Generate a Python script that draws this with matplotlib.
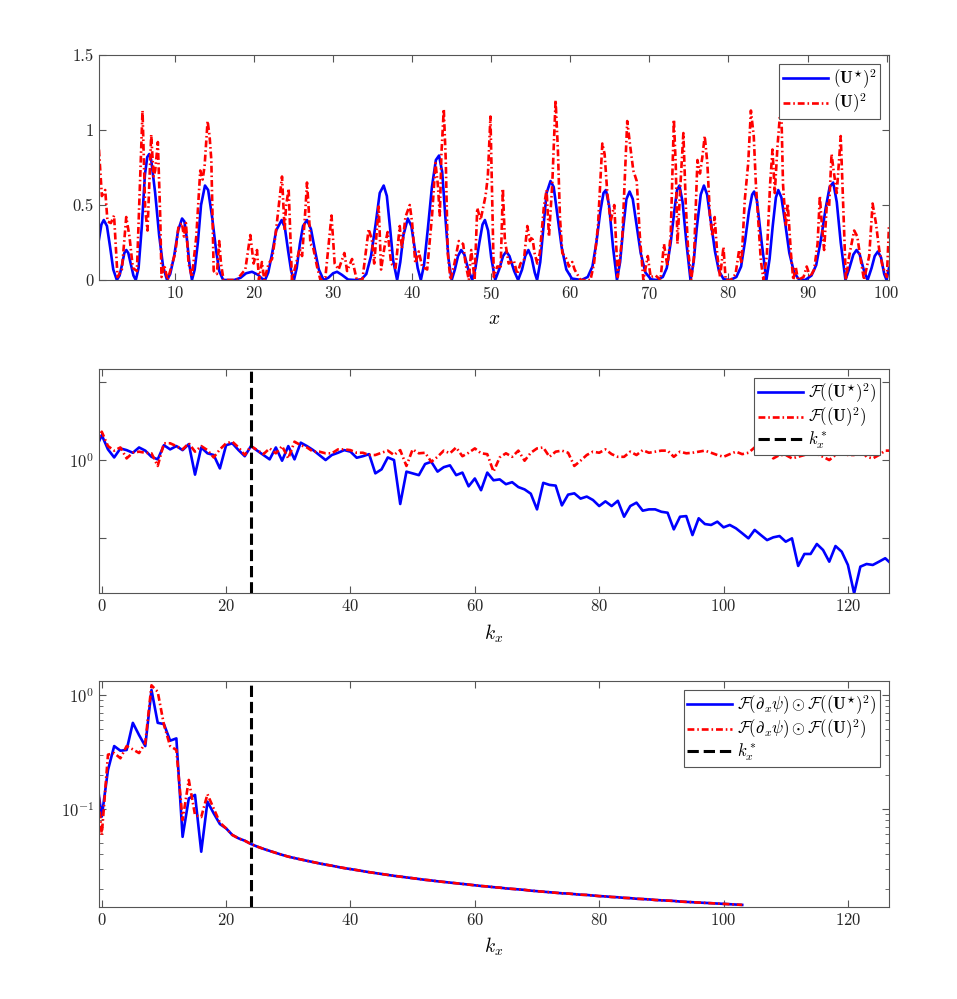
import numpy as np
import matplotlib
matplotlib.use('Agg')
import matplotlib.pyplot as plt
from matplotlib.ticker import NullFormatter, LogLocator, FixedLocator

plt.rcParams['font.family'] = 'serif'
plt.rcParams['font.serif'] = ['cmr10']
plt.rcParams['mathtext.fontset'] = 'cm'
plt.rcParams['axes.formatter.use_mathtext'] = True
plt.rcParams['axes.unicode_minus'] = False

# ---- top panel: (U*)^2 and (U)^2 over x ----
x_blue = [0.39, 0.7, 1.0, 1.4, 1.8, 2.2, 2.65,
          3.0, 3.3, 3.6, 3.85, 4.1, 4.45, 4.75, 5.05,
          5.4, 5.8, 6.2, 6.5, 6.75, 7.0, 7.5, 8.0, 8.5, 9.0,
          9.4, 9.9, 10.4, 10.9, 11.2, 11.5, 11.85, 12.15,
          12.5, 12.9, 13.3, 13.8, 14.2, 14.7, 15.2, 15.6, 16.1,
          17.5, 18.3, 19.0, 19.75, 20.5, 21.0, 21.4,
          21.8, 22.3, 22.8, 23.5, 23.9, 24.3, 24.7, 25.05,
          25.4, 25.8, 26.2, 26.7, 27.2, 27.7, 28.2, 28.8,
          29.4, 30.0, 30.5, 31.1, 31.9, 32.8, 33.6,
          34.2, 34.8, 35.4, 35.9, 36.4, 36.8, 37.2, 37.6, 38.1,
          38.5, 38.9, 39.45, 39.9, 40.3, 40.7, 41.1,
          41.5, 42.0, 42.5, 43.0, 43.4, 43.8, 44.2, 44.6, 45.0,
          45.4, 45.8, 46.2, 46.6, 47.1, 47.6,
          48.0, 48.5, 48.9, 49.2, 49.6, 50.0, 50.5,
          51.0, 51.5, 51.9, 52.3, 52.9, 53.4,
          53.9, 54.3, 54.7, 55.1, 55.5, 55.8,
          56.2, 56.6, 57.0, 57.5, 57.9, 58.4, 58.9, 59.5, 60.2, 61.4, 62.2,
          62.8, 63.3, 63.8, 64.2, 64.5, 64.9, 65.4, 65.9,
          66.3, 66.7, 67.1, 67.5, 67.9, 68.4, 68.9, 69.5, 70.2, 70.9, 71.7,
          72.2, 72.7, 73.2, 73.5, 73.8, 74.2, 74.7, 75.2,
          75.6, 76.0, 76.5, 76.9, 77.3, 77.8, 78.3, 78.8, 79.4, 80.2, 81.0,
          81.6, 82.1, 82.6, 83.0, 83.25, 83.6, 84.2, 84.8,
          85.2, 85.6, 86.0, 86.3, 86.7, 87.2, 87.7, 88.3, 88.9, 89.7, 90.5,
          91.1, 91.7, 92.3, 92.8, 93.25, 93.7, 94.2, 94.8,
          95.3, 95.8, 96.2, 96.6, 97.1, 97.6,
          98.1, 98.5, 98.9, 99.3, 99.7, 100.0, 100.3]
u_star_sq = [0.27, 0.37, 0.40, 0.36, 0.22, 0.07, 0.0,
             0.03, 0.10, 0.18, 0.20, 0.18, 0.10, 0.03, 0.0,
             0.08, 0.35, 0.70, 0.82, 0.84, 0.80, 0.58, 0.30, 0.09, 0.0,
             0.04, 0.16, 0.33, 0.41, 0.39, 0.28, 0.10, 0.0,
             0.07, 0.25, 0.50, 0.63, 0.60, 0.42, 0.20, 0.06, 0.0,
             0.0, 0.015, 0.045, 0.055, 0.035, 0.01, 0.0,
             0.05, 0.18, 0.33, 0.40, 0.35, 0.20, 0.06, 0.0,
             0.08, 0.24, 0.36, 0.40, 0.34, 0.20, 0.07, 0.0,
             0.015, 0.045, 0.055, 0.035, 0.003, 0.0, 0.005,
             0.04, 0.16, 0.38, 0.58, 0.63, 0.56, 0.35, 0.13, 0.0,
             0.12, 0.30, 0.41, 0.36, 0.22, 0.08, 0.0,
             0.10, 0.35, 0.62, 0.80, 0.83, 0.72, 0.42, 0.14, 0.0,
             0.07, 0.16, 0.20, 0.17, 0.07, 0.0,
             0.08, 0.25, 0.37, 0.40, 0.33, 0.15, 0.0,
             0.07, 0.16, 0.19, 0.16, 0.06, 0.0,
             0.07, 0.16, 0.20, 0.15, 0.05, 0.0,
             0.12, 0.35, 0.58, 0.66, 0.62, 0.42, 0.22, 0.07, 0.01, 0.0, 0.02,
             0.09, 0.25, 0.46, 0.58, 0.60, 0.50, 0.22, 0.0,
             0.12, 0.35, 0.54, 0.59, 0.54, 0.36, 0.18, 0.05, 0.005, 0.0, 0.02,
             0.08, 0.25, 0.48, 0.60, 0.63, 0.52, 0.24, 0.0,
             0.12, 0.35, 0.57, 0.63, 0.57, 0.38, 0.19, 0.06, 0.005, 0.0, 0.02,
             0.09, 0.26, 0.46, 0.57, 0.59, 0.53, 0.25, 0.0,
             0.14, 0.36, 0.55, 0.60, 0.55, 0.37, 0.18, 0.05, 0.005, 0.0, 0.03,
             0.10, 0.27, 0.48, 0.62, 0.65, 0.52, 0.25, 0.0,
             0.08, 0.17, 0.20, 0.17, 0.07, 0.0,
             0.08, 0.16, 0.19, 0.15, 0.04, 0.0, 0.08]

x_red = [0.39, 0.76, 1.18, 1.47, 1.9, 2.3, 2.74, 3.29, 3.84, 4.25,
         4.68, 5.19, 5.9, 6.24, 6.53, 7.0, 7.3, 7.5, 7.84, 8.14,
         8.3, 8.65, 9.07, 10.04, 10.46, 10.88, 11.14, 11.39, 11.73, 12.15,
         12.7, 13.2, 13.5, 13.75, 14.13, 14.38, 14.6, 14.9, 15.3, 15.6,
         15.82, 16.15, 17.8, 18.9, 19.53, 19.95, 20.38, 20.63, 21.0, 21.3,
         21.85, 22.28, 22.7, 23.54, 23.87, 24.05, 24.38, 24.8, 25.23, 25.77,
         26.08, 26.5, 26.7, 26.9, 27.13, 27.47, 27.97, 28.4, 29.03, 29.8,
         30.2, 30.7, 31.43, 31.77, 32.4, 33.0, 33.7, 34.5, 34.9, 35.2,
         35.77, 36.07, 36.5, 36.9, 37.34, 37.9, 38.43, 38.7, 39.15, 39.7,
         40.0, 40.4, 40.84, 41.26, 41.9, 42.53, 42.95, 43.24, 43.5, 43.7,
         44.0, 44.25, 44.5, 44.85, 45.35, 45.9, 46.45, 46.75, 47.17, 47.47,
         47.9, 48.23, 48.65, 49.28, 49.57, 49.9, 50.1, 50.33, 50.76, 51.2,
         51.47, 51.72, 52.2, 52.86, 53.29, 53.7, 54.13, 54.56, 54.89, 55.19,
         55.48, 55.82, 56.15, 56.66, 57.0, 57.3, 57.72, 58.14, 58.43, 58.69,
         58.99, 59.53, 59.82, 60.25, 60.54, 61.3, 62.55, 63.0, 63.5, 64.05,
         64.34, 64.68, 65.1, 65.56, 66.0, 66.58, 67.2, 67.63, 67.97, 68.4,
         68.8, 69.24, 69.8, 70.16, 70.8, 71.4, 71.85, 72.28, 72.7, 73.1,
         73.34, 73.55, 73.87, 74.3, 74.6, 74.9, 75.3, 75.65, 76.08, 76.4,
         76.7, 77.0, 77.33, 77.67, 77.97, 78.26, 78.6, 78.94, 79.37, 79.65,
         80.3, 80.9, 81.35, 81.65, 82.06, 82.5, 82.84, 83.2, 83.47, 83.77,
         84.1, 84.43, 84.85, 85.27, 85.57, 85.86, 86.2, 86.5, 86.7, 86.9,
         87.25, 87.5, 87.9, 88.2, 88.5, 88.8, 89.5, 89.9, 90.33, 90.84,
         91.27, 91.56, 91.8, 92.1, 92.45, 92.73, 93.04, 93.3, 93.7, 94.2,
         94.56, 94.85, 95.27, 95.9, 96.3, 96.65, 97.15, 97.8, 98.23, 98.65,
         99.07, 99.5, 100.04, 100.3]
u_sq = [0.87, 0.56, 0.60, 0.39, 0.38, 0.43, 0.02, 0.07, 0.42, 0.29,
        0.08, 0.06, 1.13, 0.47, 0.33, 0.97, 0.69, 0.73, 0.92, 0.42,
        0.02, 0.10, 0.0, 0.18, 0.36, 0.38, 0.29, 0.38, 0.11, 0.02,
        0.29, 0.73, 0.67, 0.76, 1.06, 0.96, 0.80, 0.06, 0.04, 0.26,
        0.11, 0.0, 0.0, 0.07, 0.30, 0.11, 0.20, 0.0, 0.12, 0.0,
        0.11, 0.14, 0.29, 0.69, 0.33, 0.49, 0.61, 0.0, 0.09, 0.21,
        0.16, 0.47, 0.65, 0.49, 0.24, 0.22, 0.09, 0.0, 0.02, 0.43,
        0.11, 0.07, 0.18, 0.06, 0.14, 0.0, 0.0, 0.34, 0.27, 0.11,
        0.49, 0.07, 0.22, 0.32, 0.11, 0.08, 0.36, 0.21, 0.42, 0.50,
        0.38, 0.11, 0.19, 0.09, 0.07, 0.44, 0.78, 0.64, 0.43, 0.84,
        1.14, 0.80, 0.18, 0.0, 0.11, 0.26, 0.24, 0.11, 0.0, 0.20,
        0.0, 0.48, 0.40, 0.56, 0.69, 1.09, 0.60, 0.02, 0.09, 0.09,
        0.61, 0.27, 0.11, 0.13, 0.04, 0.11, 0.13, 0.36, 0.26, 0.29,
        0.18, 0.11, 0.18, 0.49, 0.60, 0.29, 0.64, 1.20, 0.87, 0.42,
        0.18, 0.14, 0.09, 0.12, 0.07, 0.0, 0.0, 0.11, 0.36, 0.91,
        0.84, 0.58, 0.39, 0.50, 0.02, 0.29, 1.06, 0.87, 0.73, 0.66,
        0.29, 0.0, 0.16, 0.02, 0.03, 0.0, 0.24, 0.09, 0.30, 1.07,
        0.76, 0.24, 0.58, 0.98, 0.51, 0.20, 0.0, 0.16, 0.80, 0.71,
        0.82, 0.96, 0.78, 0.42, 0.29, 0.42, 0.16, 0.02, 0.22, 0.0,
        0.0, 0.04, 0.20, 0.11, 0.53, 0.78, 1.13, 0.96, 0.64, 0.40,
        0.13, 0.0, 0.16, 0.64, 0.87, 0.58, 0.89, 1.09, 1.11, 0.64,
        0.36, 0.51, 0.18, 0.0, 0.09, 0.0, 0.02, 0.09, 0.02, 0.07,
        0.24, 0.56, 0.38, 0.20, 0.51, 0.49, 0.84, 0.73, 0.58, 0.96,
        0.42, 0.0, 0.16, 0.33, 0.29, 0.16, 0.0, 0.16, 0.51, 0.38,
        0.20, 0.09, 0.02, 0.36]

# ---- middle panel: spectra, k = 0..127 ----
F_u_star = [2.09, 1.37, 1.08, 1.41, 1.34, 1.24, 1.45, 1.32, 1.10, 1.02,
            1.55, 1.37, 1.51, 1.34, 1.60, 0.65, 1.45, 1.22, 1.16, 0.78,
            1.55, 1.64, 1.34, 1.12, 1.51, 1.32, 1.16, 1.02, 1.45, 0.98,
            1.51, 1.02, 1.67, 1.51, 1.34, 1.16, 1.00, 1.16, 1.24, 1.34,
            1.28, 1.07, 1.12, 1.19, 0.675, 0.76, 1.08, 1.0, 0.273, 0.71,
            0.675, 0.64, 0.89, 0.95, 0.71, 0.81, 0.855, 0.64, 0.69, 0.46,
            0.58, 0.41, 0.69, 0.55, 0.565, 0.49, 0.52, 0.45, 0.42, 0.37,
            0.233, 0.51, 0.48, 0.47, 0.262, 0.36, 0.374, 0.32, 0.34, 0.307,
            0.257, 0.295, 0.257, 0.30, 0.1875, 0.257, 0.284, 0.224, 0.233, 0.233,
            0.217, 0.211, 0.129, 0.1875, 0.191, 0.109, 0.179, 0.151, 0.147, 0.162,
            0.137, 0.147, 0.133, 0.115, 0.099, 0.127, 0.109, 0.094, 0.102, 0.106,
            0.0897, 0.099, 0.0438, 0.0624, 0.0624, 0.0838, 0.0702, 0.0497, 0.0789, 0.0668,
            0.0451, 0.0195, 0.0429, 0.0464, 0.0451, 0.0497, 0.055, 0.0464]
F_u = [2.31, 1.51, 1.32, 1.45, 1.05, 1.24, 1.28, 1.24, 1.22, 0.84,
       1.64, 1.64, 1.51, 1.37, 1.64, 1.28, 1.51, 1.34, 1.08, 1.37,
       1.64, 1.72, 1.45, 1.16, 1.51, 1.34, 1.19, 1.41, 1.22, 1.51,
       1.05, 1.72, 1.55, 1.45, 1.28, 1.28, 1.22, 1.22, 1.37, 1.37,
       1.34, 1.24, 1.24, 1.16, 1.16, 1.24, 1.32, 1.16, 1.34, 0.84,
       1.37, 1.22, 1.24, 0.95, 1.10, 1.32, 1.22, 1.45, 1.12, 1.24,
       1.41, 1.22, 1.19, 0.71, 1.08, 1.22, 1.10, 1.32, 0.98, 1.24,
       1.41, 1.45, 1.10, 1.28, 1.32, 1.24, 0.84, 0.98, 1.16, 1.28,
       1.24, 1.37, 1.19, 1.10, 1.10, 1.28, 1.16, 1.34, 1.24, 1.28,
       1.32, 1.32, 1.10, 1.28, 1.22, 1.24, 1.28, 1.32, 1.24, 1.16,
       1.10, 1.19, 1.28, 1.19, 1.24, 1.45, 1.32, 1.37, 1.05, 1.16,
       1.16, 1.05, 1.10, 1.16, 1.24, 1.19, 1.10, 1.00, 1.16, 1.24,
       1.16, 1.16, 1.37, 1.10, 1.05, 1.16, 1.32, 1.32]

# ---- bottom panel: F(d_x psi) . F(U^2), k = 0..103 ----
prod_star_low = [0.0857, 0.22, 0.357, 0.325, 0.33, 0.571, 0.446, 0.357, 1.11, 0.571,
                 0.557, 0.398, 0.417, 0.057, 0.124, 0.133, 0.0422, 0.116, 0.0917, 0.0738]
prod_low = [0.059, 0.30, 0.31, 0.279, 0.357, 0.334, 0.31, 0.38, 1.22, 1.07,
            0.55, 0.357, 0.33, 0.080, 0.18, 0.0886, 0.085, 0.135, 0.101, 0.076]
prod_tail = [0.0676, 0.0592, 0.0553, 0.0527, 0.0493, 0.0468, 0.0447, 0.0429, 0.0412, 0.0396,
             0.0382, 0.0371, 0.0361, 0.0351, 0.0342, 0.0333, 0.0325, 0.0318, 0.0310, 0.0303,
             0.0297, 0.0291, 0.0285, 0.0279, 0.0274, 0.0269, 0.0264, 0.0259, 0.0255, 0.0251,
             0.0247, 0.0243, 0.0239, 0.0236, 0.0232, 0.0229, 0.0226, 0.0223, 0.0220, 0.0217,
             0.0214, 0.0211, 0.0209, 0.0206, 0.0204, 0.0201, 0.0199, 0.0197, 0.0195, 0.0192,
             0.0190, 0.0188, 0.0186, 0.0184, 0.0182, 0.0181, 0.0179, 0.0177, 0.0176, 0.0174,
             0.0172, 0.0171, 0.0169, 0.0168, 0.0166, 0.0165, 0.0163, 0.0162, 0.0161, 0.0159,
             0.0158, 0.0157, 0.0156, 0.0154, 0.0153, 0.0152, 0.0151, 0.0150, 0.0149, 0.0148,
             0.0147, 0.0146, 0.0145, 0.0144]

k_star = 24


def mirrored(vals):
    # spectrum of a real signal: |F(-1)| = |F(1)|, prepend it so the line enters from the left edge
    k = np.arange(-1, len(vals))
    return k, np.concatenate([[vals[1]], vals])


def style_axes(ax):
    for s in ax.spines.values():
        s.set_color('#555555')
        s.set_linewidth(0.8)
    ax.tick_params(which='both', direction='in', top=True, right=True,
                   colors='#555555', labelcolor='#262626', labelsize=12)
    ax.tick_params(which='major', length=5)
    ax.tick_params(which='minor', length=3)


fig = plt.figure(figsize=(9.57, 9.99), dpi=100)
ax1 = fig.add_axes([0.1034, 0.7197, 0.8255, 0.2252])
ax2 = fig.add_axes([0.1034, 0.4064, 0.8255, 0.2242])
ax3 = fig.add_axes([0.1034, 0.0921, 0.8255, 0.2262])

blue = '#0000ff'
red = '#ff0000'
lw = 1.9
dashdot = (0, (2.6, 1.1, 0.6, 1.1))

# top
ax1.plot(x_blue, u_star_sq, color=blue, lw=lw, label=r'$(\mathbf{U}^{\star})^2$')
ax1.plot(x_red, u_sq, color=red, lw=lw, ls=dashdot, label=r'$(\mathbf{U})^2$')
ax1.set_xlim(0.39, 100.3)
ax1.set_ylim(0, 1.5)
ax1.set_xticks(np.arange(10, 101, 10))
ax1.set_yticks([0, 0.5, 1, 1.5])
ax1.set_yticklabels(['0', '0.5', '1', '1.5'])
ax1.set_xlabel(r'$x$', fontsize=14, labelpad=6)
style_axes(ax1)

# middle
k, yb = mirrored(F_u_star)
_, yr = mirrored(F_u)
ax2.plot(k, yb, color=blue, lw=lw, label=r'$\mathcal{F}((\mathbf{U}^{\star})^2)$')
ax2.plot(k, yr, color=red, lw=lw, ls=dashdot, label=r'$\mathcal{F}((\mathbf{U})^2)$')
ax2.axvline(k_star, color='k', lw=2.2, ls='--', label=r'$k_x^*$')
ax2.set_yscale('log')
ax2.set_xlim(-0.45, 126.6)
ax2.set_ylim(0.0197, 14.7)
ax2.yaxis.set_major_locator(FixedLocator([0.1, 1, 10]))
ax2.yaxis.set_minor_locator(FixedLocator([]))
ax2.set_yticklabels(['', r'$10^0$', ''])
ax2.set_xticks(np.arange(0, 121, 20))
ax2.set_xlabel(r'$k_x$', fontsize=14, labelpad=6)
style_axes(ax2)

# bottom
prod_star = np.concatenate([prod_star_low, prod_tail])
prod = np.concatenate([prod_low, prod_tail])
k3, yb3 = mirrored(prod_star)
_, yr3 = mirrored(prod)
ax3.plot(k3, yb3, color=blue, lw=lw,
         label=r'$\mathcal{F}(\partial_x\psi)\odot\mathcal{F}((\mathbf{U}^{\star})^2)$')
ax3.plot(k3, yr3, color=red, lw=lw, ls=dashdot,
         label=r'$\mathcal{F}(\partial_x\psi)\odot\mathcal{F}((\mathbf{U})^2)$')
ax3.axvline(k_star, color='k', lw=2.2, ls='--', label=r'$k_x^*$')
ax3.set_yscale('log')
ax3.set_xlim(-0.45, 126.6)
ax3.set_ylim(0.0138, 1.33)
ax3.yaxis.set_major_locator(LogLocator(base=10, numticks=10))
ax3.yaxis.set_minor_locator(LogLocator(base=10, subs=np.arange(2, 10), numticks=10))
ax3.yaxis.set_minor_formatter(NullFormatter())
ax3.set_xticks(np.arange(0, 121, 20))
ax3.set_xlabel(r'$k_x$', fontsize=14, labelpad=6)
style_axes(ax3)

for ax in (ax1, ax2, ax3):
    leg = ax.legend(loc='upper right', fontsize=12, handlelength=2.7,
                    fancybox=False, framealpha=1, edgecolor='#555555',
                    borderpad=0.2, labelspacing=0.05, handletextpad=0.3,
                    borderaxespad=0.55)
    leg.get_frame().set_linewidth(0.8)

fig.savefig('out.png', dpi=100, facecolor='white')
